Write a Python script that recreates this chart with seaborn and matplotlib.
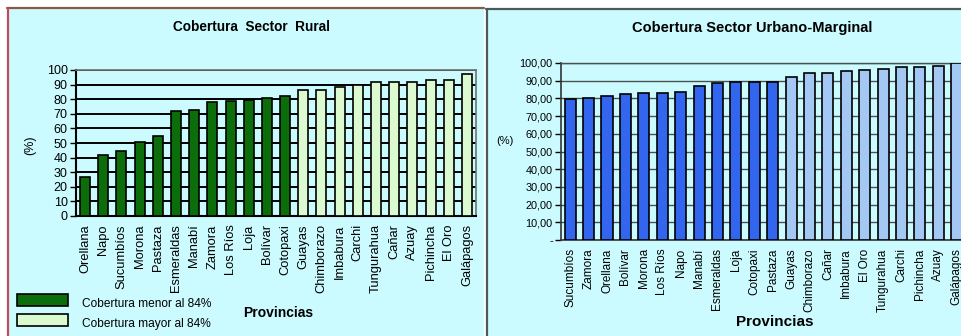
import matplotlib
matplotlib.use("Agg")
import matplotlib.pyplot as plt
import matplotlib.patches as mpatches
import seaborn as sns
import pandas as pd
import numpy as np

sns.set_theme(style="white")
plt.rcParams['font.family'] = ['Liberation Sans', 'DejaVu Sans']
plt.rcParams['text.color'] = 'black'
plt.rcParams['xtick.color'] = 'black'
plt.rcParams['ytick.color'] = 'black'
plt.rcParams['axes.labelcolor'] = 'black'

# Rural coverage by province
rural_provincias = ["Orellana", "Napo", "Sucumbíos", "Morona", "Pastaza", "Esmeraldas",
                    "Manabí", "Zamora", "Los Ríos", "Loja", "Bolívar", "Cotopaxi",
                    "Guayas", "Chimborazo", "Imbabura", "Carchi", "Tungurahua", "Cañar",
                    "Azuay", "Pichincha", "El Oro", "Galápagos"]
rural_cobertura = [26.5, 41.5, 44.5, 50.5, 55, 72, 72.5, 78, 79, 79.5, 81, 82.5,
                   86.5, 86.5, 88.5, 90, 91.5, 91.5, 91.5, 93, 93, 97]

# Urban-marginal coverage by province
urbano_provincias = ["Sucumbíos", "Zamora", "Orellana", "Bolívar", "Morona", "Los Ríos",
                     "Napo", "Manabí", "Esmeraldas", "Loja", "Cotopaxi", "Pastaza",
                     "Guayas", "Chimborazo", "Cañar", "Imbabura", "El Oro", "Tungurahua",
                     "Carchi", "Pichincha", "Azuay", "Galápagos"]
urbano_cobertura = [79.8, 80.4, 81.1, 82.5, 83.0, 83.0, 83.6, 87.2, 88.5, 89.2, 89.2, 89.2,
                    91.9, 94.5, 94.5, 95.5, 96.2, 96.6, 97.5, 97.5, 98.1, 100.0]

umbral_rural = 84
umbral_urbano = 90
grupos = ["Cobertura menor al 84%", "Cobertura mayor al 84%"]

bg = "#ccfbff"
fig = plt.figure(figsize=(9.62, 3.36), dpi=100)
fig.patch.set_facecolor("white")

# panel backgrounds
W, H = 962, 336
def fx(px): return px / W
def fy(py): return 1 - py / H
fig.patches.append(mpatches.Rectangle((fx(7), 0), fx(484) - fx(7), fy(7.5), transform=fig.transFigure,
                                      facecolor=bg, edgecolor="none", zorder=-10))
fig.add_artist(plt.Line2D([fx(7), fx(484)], [fy(7.5), fy(7.5)], color="#8a5a40", lw=1.6))
fig.add_artist(plt.Line2D([fx(8), fx(8)], [0, fy(7.5)], color="#c04a60", lw=1.6))
fig.patches.append(mpatches.Rectangle((fx(486), 0), 1 - fx(486), fy(8), transform=fig.transFigure,
                                      facecolor=bg, edgecolor="none", zorder=-10))
fig.add_artist(plt.Line2D([fx(486), 1], [fy(8.5), fy(8.5)], color="#4a5a5a", lw=1.6))
fig.add_artist(plt.Line2D([fx(487), fx(487)], [0, fy(8.5)], color="#4a5a5a", lw=1.6))


def panel(ax, provs, vals, umbral, colors, width, gridcolor, gridlw, fs):
    df = pd.DataFrame({"prov": provs, "val": vals,
                       "grupo": [grupos[0] if v < umbral else grupos[1] for v in vals]})
    sns.barplot(data=df, x="prov", y="val", hue="grupo", hue_order=grupos,
                palette=colors, dodge=False, width=width, ax=ax, saturation=1,
                edgecolor="black", linewidth=1.2, legend=False, zorder=3)
    ax.set_facecolor(bg)
    ax.set_xlim(-0.5, len(provs) - 0.5)
    ax.set_ylim(0, 100)
    ax.set_yticks(np.arange(0, 101, 10))
    ax.yaxis.grid(True, color=gridcolor, lw=gridlw, zorder=1)
    ax.set_axisbelow(True)
    ax.set_xticks(range(len(provs)))
    ax.set_xticklabels(provs, rotation=90, fontsize=fs)
    ax.tick_params(axis="x", which="major", length=0, pad=6)
    ax.set_xticks(np.arange(-0.5, len(provs), 1), minor=True)
    ax.tick_params(axis="x", which="minor", length=4, width=1, color="black", direction="out")
    ax.tick_params(axis="y", length=4, width=1, color="black", direction="out", pad=2, left=True)
    ax.set_xlabel("")
    ax.set_ylabel("")


# Rural
ax1 = fig.add_axes([fx(76), fy(216), fx(476) - fx(76), fy(70) - fy(216)])
panel(ax1, rural_provincias, rural_cobertura, umbral_rural, ["#0b6e0b", "#dbfad0"],
      0.55, "black", 1.4, 9.3)
ax1.set_yticklabels([str(v) for v in range(0, 101, 10)], fontsize=9)
for s in ["left", "bottom"]:
    ax1.spines[s].set_color("black"); ax1.spines[s].set_linewidth(1.5)
for s in ["top", "right"]:
    ax1.spines[s].set_color("#707070"); ax1.spines[s].set_linewidth(1.2)
fig.text(fx(252), fy(27), "Cobertura  Sector  Rural", ha="center", va="center",
         fontsize=9.8, fontweight="bold")
fig.text(fx(30), fy(145), "(%)", rotation=90, ha="center", va="center", fontsize=9)
fig.text(fx(278), fy(313), "Provincias", ha="center", va="center", fontsize=10, fontweight="bold")
for i, (lab, col) in enumerate(zip(grupos, ["#0b6e0b", "#dbfad0"])):
    yc = 300 + 20 * i
    fig.patches.append(mpatches.Rectangle((fx(17), fy(yc + 6)), fx(68) - fx(17), fy(yc - 6) - fy(yc + 6),
                                          transform=fig.transFigure, facecolor=col,
                                          edgecolor="black", lw=1.2))
    fig.text(fx(82), fy(yc + 4), lab, ha="left", va="center", fontsize=8.6)

# Urbano-Marginal
ax2 = fig.add_axes([fx(561), fy(240), 405 / W, fy(63) - fy(240)])
panel(ax2, urbano_provincias, urbano_cobertura, umbral_urbano, ["#3366ee", "#a4c8f4"],
      0.6, "#4a5050", 1.0, 8.5)
ax2.set_yticklabels(["-"] + [f"{v},00" for v in range(10, 101, 10)], fontsize=7.8)
for s in ["left", "bottom"]:
    ax2.spines[s].set_color("#333333"); ax2.spines[s].set_linewidth(1.2)
ax2.spines["top"].set_color("#4a5050"); ax2.spines["top"].set_linewidth(1.0)
ax2.spines["right"].set_visible(False)
fig.text(fx(752), fy(28), "Cobertura Sector Urbano-Marginal", ha="center", va="center",
         fontsize=10.5, fontweight="bold")
fig.text(fx(505), fy(141), "(%)", ha="center", va="center", fontsize=8)
fig.text(fx(775), fy(322), "Provincias", ha="center", va="center", fontsize=11, fontweight="bold")

fig.savefig("out.png", dpi=100, facecolor="white")
